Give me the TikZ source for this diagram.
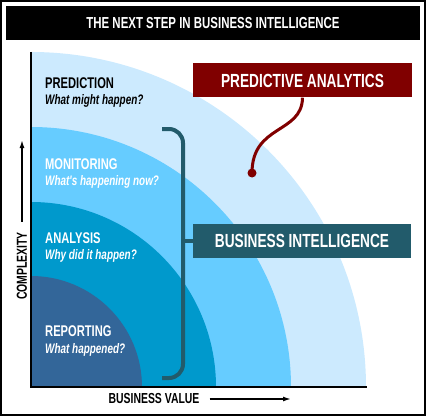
\documentclass[tikz,border=0pt]{standalone}
\usepackage{fontspec}
\newfontfamily\condfont[FakeStretch=0.72]{Liberation Sans}
\usetikzlibrary{arrows.meta}

\definecolor{predblue}{HTML}{CCEAFE}
\definecolor{monblue}{HTML}{66CCFF}
\definecolor{anablue}{HTML}{0099CC}
\definecolor{repblue}{HTML}{336699}
\definecolor{biteal}{HTML}{225B6B}
\definecolor{pared}{HTML}{800000}

\tikzset{
    stage/.style={anchor=base west, inner sep=0, font=\condfont\bfseries\fontsize{15.5}{18}\selectfont},
    question/.style={anchor=base west, inner sep=0, font=\condfont\bfseries\itshape\fontsize{13.8}{16}\selectfont},
    banner/.style={inner sep=0, minimum height=34pt, text=white, font=\condfont\bfseries\fontsize{19}{22}\selectfont},
    axislabel/.style={inner sep=0, font=\condfont\bfseries\fontsize{14.5}{16}\selectfont},
    axisarrow/.style={line width=1.5pt, -{Latex[length=8pt, width=5pt]}}
}

\begin{document}
\begin{tikzpicture}[x=1pt, y=1pt]
    \useasboundingbox (0,0) rectangle (426,416);

    % Frame and title bar
    \draw[line width=2pt] (1,1) rectangle (425,415);
    \node[fill=black, text=white, minimum width=414pt, minimum height=34pt, inner sep=0,
          font=\condfont\bfseries\fontsize{15.9}{18}\selectfont] (title) at (213,393)
          {THE NEXT STEP IN BUSINESS INTELLIGENCE};

    % Quarter circles for the four stages
    \coordinate (O) at (31,29);
    \fill[predblue] (O) -- ++(335,0) arc[start angle=0, end angle=90, radius=335] -- cycle;
    \fill[monblue] (O) -- ++(260,0) arc[start angle=0, end angle=90, radius=260] -- cycle;
    \fill[anablue] (O) -- ++(185,0) arc[start angle=0, end angle=90, radius=185] -- cycle;
    \fill[repblue] (O) -- ++(111,0) arc[start angle=0, end angle=90, radius=111] -- cycle;

    % Axes
    \coordinate (ytop) at (31,364);
    \coordinate (xend) at (367,29);
    \draw[line width=2pt] (ytop) -- (O) -- (xend);

    % Stage labels
    \node[stage] (pred) at (45,327) {PREDICTION};
    \node[question] (predq) at (45,311.5) {What might happen?};
    \node[stage, text=white] (mon) at (45,247) {MONITORING};
    \node[question, text=white] (monq) at (45,230.5) {What's happening now?};
    \node[stage, text=white] (ana) at (45,173) {ANALYSIS};
    \node[question, text=white] (anaq) at (45,156.5) {Why did it happen?};
    \node[stage, text=white] (rep) at (45,79.5) {REPORTING};
    \node[question, text=white] (repq) at (45,62.5) {What happened?};

    % Banners
    \node[banner, fill=pared, minimum width=219pt] (pa) at (302.5,335.5) {PREDICTIVE ANALYTICS};
    \node[banner, fill=biteal, minimum width=218pt] (bi) at (302,175) {BUSINESS INTELLIGENCE};

    % Bracket round the first three stages
    \coordinate (brtop) at (162,287);
    \coordinate (brmid) at (183,175);
    \coordinate (brbot) at (162,38);
    \draw[biteal, line width=4pt, rounded corners=14pt] (brtop) -| (brmid) |- (brbot);
    \draw[biteal, line width=4pt] (brmid) -- (bi.west);

    % Pointer from predictive analytics
    \node[circle, fill=pared, minimum size=9pt, inner sep=0] (dot) at (252,243) {};
    \draw[pared, line width=3pt] (pa.south) .. controls (302,282) and (252,292) .. (dot.center);

    % Axis labels
    \node[axislabel, rotate=90] (cx) at (22,150) {COMPLEXITY};
    \coordinate (cxend) at (22,276);
    \draw[axisarrow] ([yshift=10pt]cx.east) -- (cxend);
    \node[axislabel] (bv) at (154,17) {BUSINESS VALUE};
    \coordinate (bvend) at (291,17);
    \draw[axisarrow] ([xshift=10pt]bv.east) -- (bvend);
\end{tikzpicture}
\end{document}
